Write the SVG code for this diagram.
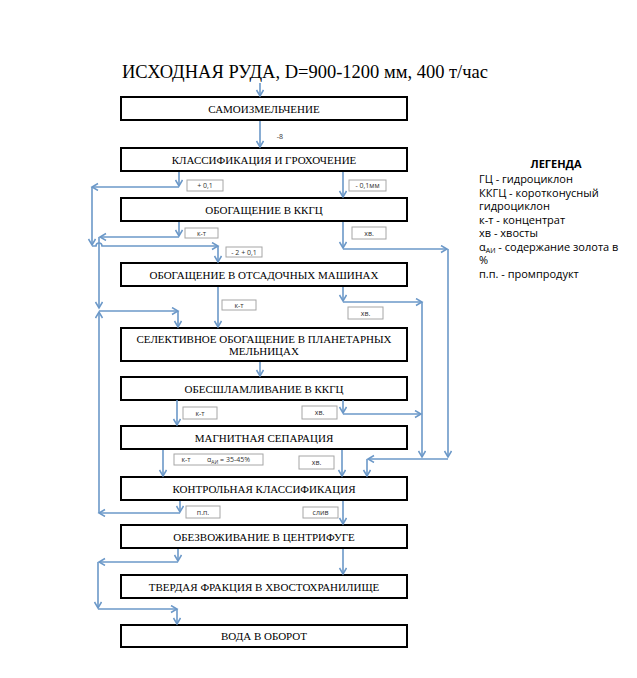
<svg xmlns="http://www.w3.org/2000/svg" width="637" height="678" viewBox="0 0 637 678">
<defs>
<marker id="arr" markerUnits="userSpaceOnUse" markerWidth="10" markerHeight="10" refX="7" refY="4" orient="auto">
<path d="M1,0.5 L7,4 L1,7.5" fill="none" stroke="#6b98c8" stroke-width="1.5"/>
</marker>
</defs>
<style>
.bx{fill:#fff;stroke:#000;stroke-width:2}
.bt{font-family:"Liberation Serif","Times New Roman",serif;font-size:11px;fill:#000;text-anchor:middle}
.ln{fill:none;stroke:#6b98c8;stroke-width:1.6;marker-end:url(#arr)}
.lb{fill:#fff;stroke:#a6a6a6;stroke-width:1}
.lt{font-family:"Open Sans","Liberation Sans",sans-serif;font-size:7px;fill:#333;text-anchor:middle}
.ls{font-family:"Open Sans","Liberation Sans",sans-serif;font-size:7px;fill:#333;text-anchor:start}
.lg{font-family:"Open Sans","Liberation Sans",sans-serif;font-size:11px;fill:#000}
</style>
<rect width="637" height="678" fill="#fff"/>
<text id="title" x="305" y="78" font-family="Liberation Serif, Times New Roman, serif" font-size="18.5" text-anchor="middle" fill="#000">ИСХОДНАЯ РУДА, D=900-1200 мм, 400 т/час</text>

<g id="n1"><rect class="bx" x="121" y="97" width="286" height="23"/><text class="bt" x="264" y="113">САМОИЗМЕЛЬЧЕНИЕ</text></g>
<g id="n2"><rect class="bx" x="121" y="148" width="286" height="23"/><text class="bt" x="264" y="164">КЛАССИФИКАЦИЯ И ГРОХОЧЕНИЕ</text></g>
<g id="n3"><rect class="bx" x="121" y="198" width="286" height="23"/><text class="bt" x="264" y="214">ОБОГАЩЕНИЕ В ККГЦ</text></g>
<g id="n4"><rect class="bx" x="121" y="263" width="286" height="23"/><text class="bt" x="264" y="279">ОБОГАЩЕНИЕ В ОТСАДОЧНЫХ МАШИНАХ</text></g>
<g id="n5"><rect class="bx" x="121" y="328" width="286" height="33"/><text class="bt" x="264" y="343">СЕЛЕКТИВНОЕ ОБОГАЩЕНИЕ В ПЛАНЕТАРНЫХ</text><text class="bt" x="264" y="355">МЕЛЬНИЦАХ</text></g>
<g id="n6"><rect class="bx" x="121" y="377" width="286" height="23"/><text class="bt" x="264" y="393">ОБЕСШЛАМЛИВАНИЕ В ККГЦ</text></g>
<g id="n7"><rect class="bx" x="121" y="426" width="286" height="23"/><text class="bt" x="264" y="442">МАГНИТНАЯ СЕПАРАЦИЯ</text></g>
<g id="n8"><rect class="bx" x="121" y="477" width="286" height="23"/><text class="bt" x="264" y="493">КОНТРОЛЬНАЯ КЛАССИФИКАЦИЯ</text></g>
<g id="n9"><rect class="bx" x="121" y="525" width="286" height="23"/><text class="bt" x="264" y="541">ОБЕЗВОЖИВАНИЕ В ЦЕНТРИФУГЕ</text></g>
<g id="n10"><rect class="bx" x="121" y="575" width="286" height="23"/><text class="bt" x="264" y="591">ТВЕРДАЯ ФРАКЦИЯ В ХВОСТОХРАНИЛИЩЕ</text></g>
<g id="n11"><rect class="bx" x="121" y="625" width="286" height="22"/><text class="bt" x="264" y="640">ВОДА В ОБОРОТ</text></g>

<g id="connectors">
<path class="ln" d="M260,83 V96"/>
<path class="ln" d="M260,121 V147"/>
<path class="ln" d="M343,172 V197"/>
<path class="ln" d="M260,362 V376"/>
<path class="ln" d="M179,172 V186"/>
<path class="ln" d="M179,187 H92"/>
<path class="ln" d="M92,187 V245"/>
<path class="ln" d="M92,246 H96 A3,3 0 0 1 102,246 H218"/>
<path class="ln" d="M218,246 V262"/>
<path class="ln" d="M179,222 V236"/>
<path class="ln" d="M179,237 H100"/>
<path class="ln" d="M99,237 V308"/>
<path class="ln" d="M180,501 V512"/>
<path class="ln" d="M180,513 H99"/>
<path class="ln" d="M99,513 V312"/>
<path class="ln" d="M99,311 H178"/>
<path class="ln" d="M178,311 V327"/>
<path class="ln" d="M218,287 V327"/>
<path class="ln" d="M343,287 V301"/>
<path class="ln" d="M343,302 H422"/>
<path class="ln" d="M422,302 V457"/>
<path class="ln" d="M343,222 V248"/>
<path class="ln" d="M343,249 H447"/>
<path class="ln" d="M448,249 V457"/>
<path class="ln" d="M448,459 H368"/>
<path class="ln" d="M367,459 V476"/>
<path class="ln" d="M343,400 V413"/>
<path class="ln" d="M343,414 H421"/>
<path class="ln" d="M177,400 V425"/>
<path class="ln" d="M163,450 V476"/>
<path class="ln" d="M342,450 V476"/>
<path class="ln" d="M343,501 V524"/>
<path class="ln" d="M178,549 V561"/>
<path class="ln" d="M178,562 H99"/>
<path class="ln" d="M98,562 V608"/>
<path class="ln" d="M98,609 H177"/>
<path class="ln" d="M177,609 V624"/>
<path class="ln" d="M343,549 V574"/>
</g>

<g id="labels">
<text class="lt" x="280" y="139">-8</text>
<rect class="lb" x="187" y="180" width="36" height="11"/><text class="lt" x="205" y="188">+ 0,1</text>
<rect class="lb" x="349" y="180" width="37" height="11"/><text class="lt" x="367.5" y="188">- 0,1мм</text>
<rect class="lb" x="185" y="228" width="33" height="10"/><text class="lt" x="201.5" y="235.5">к-т</text>
<rect class="lb" x="352" y="227" width="34" height="12"/><text class="lt" x="369" y="235.5">хв.</text>
<rect class="lb" x="226" y="247" width="36" height="10"/><text class="lt" x="244" y="254.5">- 2 + 0,1</text>
<rect class="lb" x="222" y="300" width="34" height="10"/><text class="lt" x="239" y="307.5">к-т</text>
<rect class="lb" x="348" y="307" width="35" height="12"/><text class="lt" x="365.5" y="315.5">хв.</text>
<rect class="lb" x="183" y="407" width="34" height="12"/><text class="lt" x="200" y="415.5">к-т</text>
<rect class="lb" x="302" y="406" width="35" height="13"/><text class="lt" x="319.5" y="415">хв.</text>
<rect class="lb" x="174" y="454" width="89" height="11"/><text class="lt" x="186" y="462">к-т</text><text class="ls" x="207" y="462">α<tspan font-size="5" dy="1.5">АИ</tspan><tspan dy="-1.5"> = 35-45%</tspan></text>
<rect class="lb" x="299" y="456" width="35" height="13"/><text class="lt" x="316.5" y="465">хв.</text>
<rect class="lb" x="186" y="506" width="34" height="12"/><text class="lt" x="203" y="514.5">п.п.</text>
<rect class="lb" x="303" y="507" width="35" height="11"/><text class="lt" x="320.5" y="515">слив</text>
</g>

<g id="legend">
<text class="lg" x="556" y="168" text-anchor="middle" font-weight="bold">ЛЕГЕНДА</text>
<text class="lg" x="479" y="183">ГЦ - гидроциклон</text>
<text class="lg" x="479" y="196.5">ККГЦ - коротконусный</text>
<text class="lg" x="479" y="210">гидроциклон</text>
<text class="lg" x="479" y="223.5">к-т - концентрат</text>
<text class="lg" x="479" y="237">хв - хвосты</text>
<text class="lg" x="479" y="250.5">α<tspan font-size="7" dy="2">АИ</tspan><tspan dy="-2"> - содержание золота в</tspan></text>
<text class="lg" x="479" y="264">%</text>
<text class="lg" x="479" y="277.5">п.п. - промпродукт</text>
</g>
</svg>
